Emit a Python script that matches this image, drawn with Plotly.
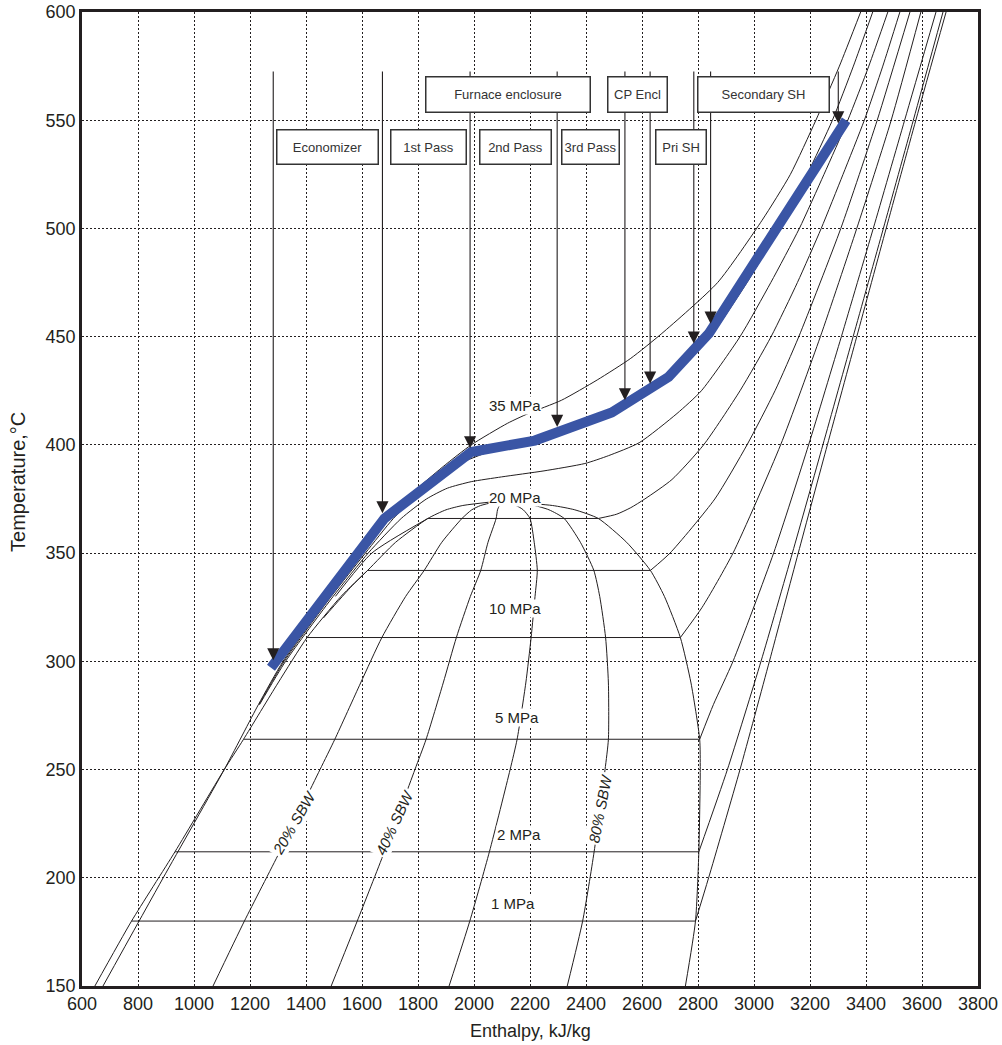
import plotly.graph_objects as go

# ---------------- data ----------------
# saturated liquid / vapour lines (enthalpy kJ/kg, temperature C)
sat_T = [150, 180, 212, 250, 264, 290, 311, 330, 342, 355, 366, 370, 372, 374]
sat_liq_h = [646, 777, 932, 1108, 1177, 1300, 1404, 1525, 1620, 1720, 1835, 1900, 1960, 2087]
sat_vap_h = [2755, 2791, 2803, 2808, 2806, 2775, 2737, 2680, 2630, 2545, 2444, 2360, 2280, 2087]

# steam-by-weight (quality) lines
q20_h = [1068, 1180, 1306, 1450, 1503, 1595, 1671, 1756, 1822, 1885, 1957, 1992, 2024, 2087]
q40_h = [1490, 1583, 1680, 1789, 1829, 1890, 1937, 1987, 2024, 2050, 2079, 2084, 2090, 2087]
q60_h = [1911, 1985, 2055, 2129, 2154, 2185, 2204, 2218, 2226, 2215, 2200, 2176, 2150, 2087]
q80_h = [2333, 2388, 2429, 2468, 2480, 2480, 2470, 2449, 2428, 2380, 2322, 2268, 2215, 2087]

# isobars: liquid part, saturation plateau, superheated part
p35_T = [150, 200, 250, 280, 300, 330, 350, 366, 375, 390, 400, 410, 414.5, 420.6, 430, 440, 451.5, 475, 503.8, 525, 550, 575, 600]
p35_h = [675, 890, 1108, 1230, 1318, 1485, 1605, 1695, 1755, 1890, 1990, 2120, 2194, 2312, 2440, 2560, 2671, 2870, 3029, 3130, 3221, 3305, 3381]

p30_T = [280, 300, 330, 350, 366, 375, 385, 392, 398, 402, 406, 410, 415, 422, 431, 440, 451, 475, 500, 525, 550, 575, 600]
p30_h = [1232, 1322, 1490, 1612, 1712, 1785, 1875, 1960, 2080, 2200, 2330, 2420, 2500, 2600, 2690, 2770, 2850, 2975, 3090, 3190, 3280, 3355, 3424]

p25_T = [280, 300, 330, 350, 366, 375, 380, 383, 385.2, 388, 391.4, 395, 401, 414.5, 425, 450, 475, 500, 525, 550, 575, 600]
p25_h = [1234, 1327, 1497, 1622, 1740, 1830, 1905, 1990, 2098, 2250, 2396, 2480, 2590, 2725, 2812, 2950, 3060, 3162, 3250, 3335, 3410, 3478]

p20_liq_T = [330, 350, 366]
p20_liq_h = [1505, 1635, 1835]
p20_T = [366, 368, 371, 375, 384, 400, 425, 450, 475, 500, 525, 550, 575, 600]
p20_h = [2444, 2510, 2560, 2610, 2707, 2820, 2950, 3061, 3155, 3240, 3318, 3394, 3460, 3521]

p15_liq_T = [320, 335, 342]
p15_liq_h = [1462, 1565, 1620]
p15_T = [342, 350, 375, 400, 425, 450, 500, 550, 600]
p15_h = [2630, 2700, 2860, 2975, 3075, 3160, 3310, 3440, 3557]

p10_T = [311, 325, 350, 400, 450, 500, 550, 600]
p10_h = [2737, 2815, 2925, 3095, 3237, 3367, 3490, 3596]

p5_T = [264, 280, 300, 350, 400, 450, 500, 550, 600]
p5_h = [2806, 2855, 2925, 3070, 3195, 3312, 3426, 3538, 3650]

p2_T = [212, 250, 300, 350, 400, 450, 500, 550, 600]
p2_h = [2803, 2905, 3025, 3137, 3246, 3354, 3462, 3569, 3675]

p1_T = [180, 200, 250, 300, 350, 400, 450, 500, 550, 600]
p1_h = [2791, 2838, 2950, 3055, 3158, 3262, 3367, 3472, 3578, 3686]

# saturation plateaus (T_sat, h_f, h_g)
plateau_T = [180, 212, 264, 311, 342, 366]
plateau_hf = [777, 932, 1177, 1404, 1620, 1835]
plateau_hg = [2791, 2803, 2806, 2737, 2630, 2444]

# boiler water/steam path
path_h = [1275, 1680, 1990, 2217, 2492, 2695, 2839, 3329]
path_T = [297, 366, 396.7, 402, 415, 431.4, 451.5, 550]

# section arrows (enthalpy, tip temperature)
arrow_h = [1283, 1673, 1986, 2297, 2539, 2629, 2785, 2845, 3301]
arrow_tip_T = [300.5, 368.4, 398.4, 408.3, 420.6, 428.3, 446.8, 456, 548.5]
arrow_top_T = 573.2

# section boxes
box_text = ["Economizer", "1st Pass", "2nd Pass", "3rd Pass", "Pri SH",
            "Furnace enclosure", "CP Encl", "Secondary SH"]
box_h = [1477, 1836, 2147, 2415, 2741, 2122, 2585, 3033]
box_T = [537.4, 537.4, 537.4, 537.4, 537.4, 561.9, 561.9, 561.9]
box_w = [102, 76, 72, 58, 51, 165, 60, 132]
box_ht = [35, 35, 35, 35, 35, 36, 36, 36]

# pressure labels
plabel_text = ["35 MPa", "20 MPa", "10 MPa", "5 MPa", "2 MPa", "1 MPa"]
plabel_h = [2146, 2146, 2146, 2152, 2162, 2140]
plabel_T = [418.2, 375.9, 324.3, 274.2, 220, 188]

# quality labels
qlabel_text = ["20% SBW", "40% SBW", "80% SBW"]
qlabel_h = [1357, 1715, 2452]
qlabel_T = [225.7, 225.7, 231.8]
qlabel_angle = [-60, -65, -79]

x_ticks = list(range(600, 3801, 200))
y_ticks = list(range(150, 601, 50))

# ---------------- figure ----------------
INK = "#231f20"
BLUE = "#3a55a5"
FONT = "Liberation Sans, Arial, sans-serif"
fig = go.Figure()


def line(h, T, shape="spline", color=INK, width=1):
    fig.add_trace(go.Scatter(x=h, y=T, mode="lines",
                             line=dict(color=color, width=width, shape=shape, smoothing=0.6),
                             hoverinfo="skip", showlegend=False))


line(sat_liq_h, sat_T)
line(sat_vap_h, sat_T)
for q in (q20_h, q40_h, q60_h, q80_h):
    line(q, sat_T)
for i in range(len(plateau_T)):
    line([plateau_hf[i], plateau_hg[i]], [plateau_T[i], plateau_T[i]], shape="linear")
line(p35_h, p35_T)
line(p30_h, p30_T)
line(p25_h, p25_T)
line(p20_liq_h, p20_liq_T)
line(p20_h, p20_T)
line(p15_liq_h, p15_liq_T)
line(p15_h, p15_T)
line(p10_h, p10_T)
line(p5_h, p5_T)
line(p2_h, p2_T)
line(p1_h, p1_T)

fig.add_trace(go.Scatter(x=path_h, y=path_T, mode="lines",
                         line=dict(color=BLUE, width=10), hoverinfo="skip", showlegend=False))

ann = []
for h, t in zip(arrow_h, arrow_tip_T):
    ann.append(dict(x=h, y=t, ax=h, ay=arrow_top_T, xref="x", yref="y", axref="x", ayref="y",
                    text="", showarrow=True, arrowhead=2, arrowsize=2.2, arrowwidth=1.1,
                    arrowcolor=INK, standoff=0))
for txt, h, t, w, hh in zip(box_text, box_h, box_T, box_w, box_ht):
    ann.append(dict(x=h, y=t, xref="x", yref="y", text=txt, showarrow=False,
                    width=w - 2, height=hh - 2, bgcolor="white", bordercolor="#333333",
                    borderwidth=1.5, borderpad=0, align="center", valign="middle",
                    font=dict(family=FONT, size=13, color="#333333")))
for txt, h, t in zip(plabel_text, plabel_h, plabel_T):
    ann.append(dict(x=h, y=t, xref="x", yref="y", text=txt, showarrow=False,
                    bgcolor="white", borderpad=0,
                    font=dict(family=FONT, size=15, color=INK)))
for txt, h, t, a in zip(qlabel_text, qlabel_h, qlabel_T, qlabel_angle):
    ann.append(dict(x=h, y=t, xref="x", yref="y", text="<i>" + txt + "</i>", showarrow=False,
                    textangle=a, bgcolor="white", borderpad=1,
                    font=dict(family=FONT, size=15, color=INK)))
ann.append(dict(x=0.5, y=-0.0462, xref="paper", yref="paper", text="Enthalpy, kJ/kg",
                showarrow=False, yanchor="middle",
                font=dict(family=FONT, size=18, color=INK)))
ann.append(dict(x=-0.0714, y=0.5175, xref="paper", yref="paper", text="Temperature,\u00b0C",
                showarrow=False, textangle=-90, xanchor="center", yanchor="middle",
                font=dict(family=FONT, size=20, color=INK)))

axis_common = dict(showline=True, linewidth=2.5, linecolor=INK, mirror=True,
                   showgrid=True, gridcolor=INK, gridwidth=1, griddash="2px,2px",
                   zeroline=False, ticks="", automargin=False,
                   tickfont=dict(family=FONT, size=18, color=INK))

fig.update_layout(
    width=1002, height=1045,
    margin=dict(l=82, r=24, t=12, b=59),
    paper_bgcolor="white", plot_bgcolor="white",
    showlegend=False,
    annotations=ann,
    xaxis=dict(range=[600, 3800], tickvals=x_ticks, **axis_common),
    yaxis=dict(range=[150, 600], tickvals=y_ticks, **axis_common),
)

fig.write_html("out.html")
